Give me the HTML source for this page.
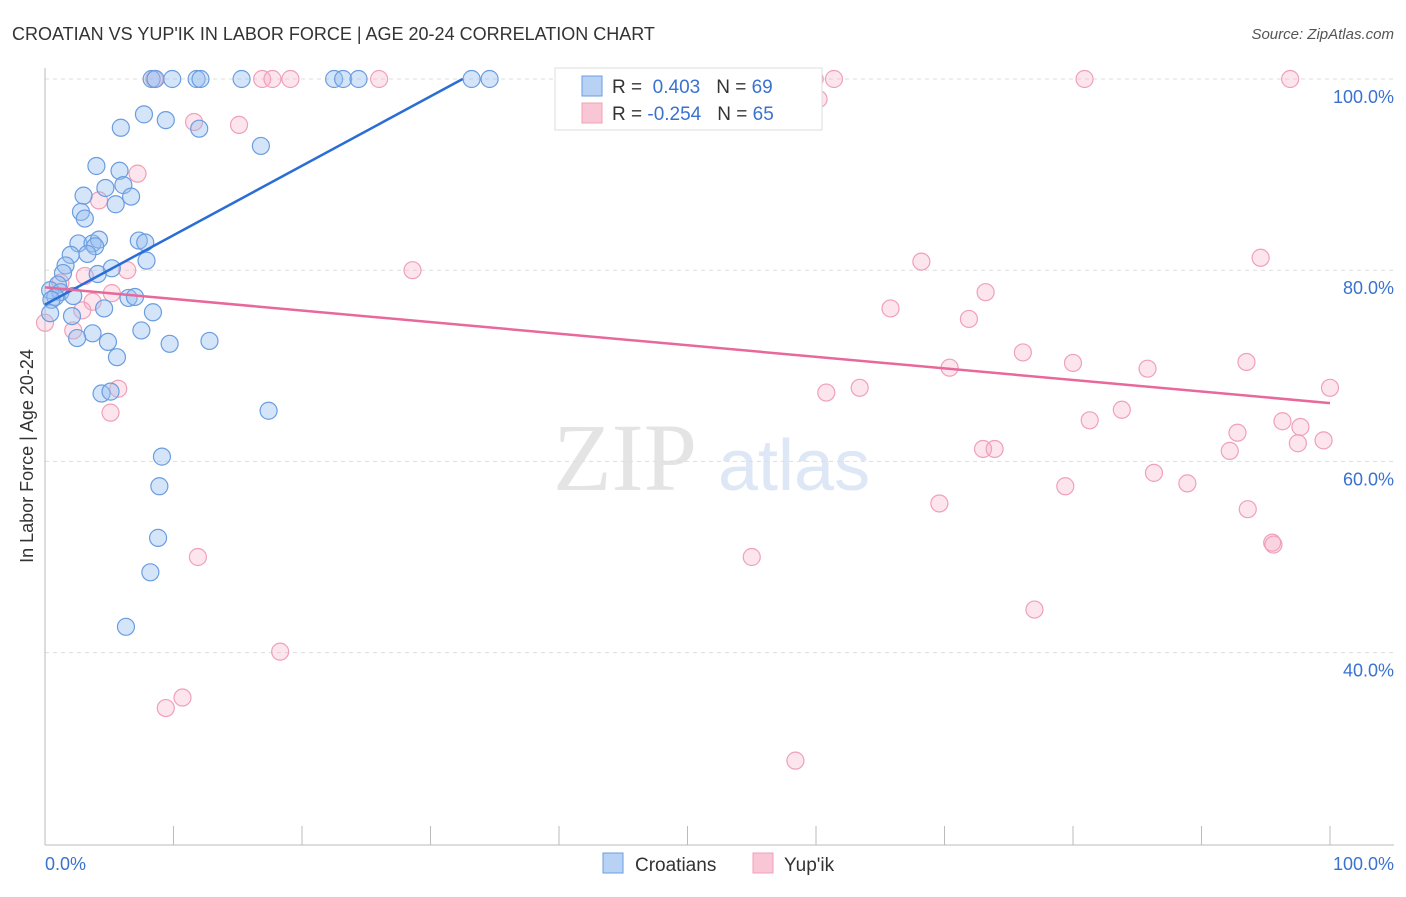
<!DOCTYPE html>
<html><head><meta charset="utf-8"><style>
body{margin:0;background:#fff;font-family:"Liberation Sans",sans-serif}
</style></head><body>
<svg id="chart" width="1406" height="892" viewBox="0 0 1406 892" xmlns="http://www.w3.org/2000/svg" font-family="Liberation Sans, sans-serif">
<text x="12" y="40" font-size="18" fill="#333">CROATIAN VS YUP'IK IN LABOR FORCE | AGE 20-24 CORRELATION CHART</text>
<text x="1394" y="39" font-size="15" fill="#555" font-style="italic" text-anchor="end">Source: ZipAtlas.com</text>
<text x="553" y="490" font-size="96" fill="#e4e4e4" font-family="Liberation Serif, serif">ZIP</text>
<text x="718" y="490" font-size="72" fill="#dde7f5">atlas</text>
<g id="grid"></g>
<g id="axes"></g>
<g id="pts"></g>
<g id="trends"></g>
<text transform="translate(33,456) rotate(-90)" font-size="18" fill="#333" text-anchor="middle">In Labor Force | Age 20-24</text>
<g>
<rect x="555" y="68" width="267" height="62" fill="#fff" stroke="#ddd"/>
<rect x="582" y="76" width="20" height="20" fill="#b8d2f5" stroke="#6a9de0"/>
<text x="612" y="93" font-size="19" fill="#333">R = <tspan fill="#3a72d0">&#160;0.403</tspan><tspan dx="16">N = </tspan><tspan fill="#3a72d0">69</tspan></text>
<rect x="582" y="103" width="20" height="20" fill="#f8c6d4" stroke="#f0a0b8"/>
<text x="612" y="120" font-size="19" fill="#333">R = <tspan fill="#3a72d0">-0.254</tspan><tspan dx="16">N = </tspan><tspan fill="#3a72d0">65</tspan></text>
</g>
<g>
<rect x="603" y="853" width="20" height="20" fill="#b8d2f5" stroke="#6a9de0"/>
<text x="635" y="871" font-size="19" fill="#333">Croatians</text>
<rect x="753" y="853" width="20" height="20" fill="#f8c6d4" stroke="#f0a0b8"/>
<text x="784" y="871" font-size="19" fill="#333">Yup'ik</text>
</g>
</svg>
<script>
const blueX=[8.3,8.6,9.9,11.8,12.1,15.3,22.5,23.2,24.4,33.2,34.6,7.7,9.4,5.9,12.0,16.8,4.0,5.8,4.7,6.1,3.0,6.7,5.5,2.8,3.1,2.6,3.7,4.2,3.9,7.3,7.8,3.3,2.0,7.9,1.6,5.2,4.1,1.4,1.0,0.4,1.2,2.2,0.8,0.5,6.5,7.0,4.6,8.4,2.1,0.4,3.7,2.5,7.5,9.7,12.8,4.9,5.6,4.4,5.1,17.4,9.1,8.9,8.8,8.2,6.3];
const blueY=[100,100,100,100,100,100,100,100,100,100,100,96.3,95.7,94.9,94.8,93.0,90.9,90.4,88.6,88.9,87.8,87.7,86.9,86.1,85.4,82.8,82.8,83.2,82.5,83.1,82.9,81.7,81.6,81.0,80.5,80.2,79.6,79.7,78.5,77.9,77.7,77.3,77.2,76.9,77.1,77.2,76.0,75.6,75.2,75.5,73.4,72.9,73.7,72.3,72.6,72.5,70.9,67.1,67.3,65.3,60.5,57.4,52.0,48.4,42.7];
const pinkX=[8.5,16.9,17.7,19.1,26.0,50.0,59.9,61.4,80.9,96.9,60.2,11.6,15.1,7.2,4.2,28.6,6.4,94.6,68.2,73.2,1.2,3.1,5.2,3.7,2.9,65.8,71.9,76.1,80.0,85.8,93.5,70.4,63.4,60.8,100,5.7,5.1,83.8,81.3,96.3,97.7,92.8,99.5,97.5,92.2,73.0,73.9,86.3,88.9,79.4,69.6,93.6,95.5,95.6,55.0,11.9,77.0,18.3,10.7,9.4,58.4,0,2.2];
const pinkY=[100,100,100,100,100,100,100,100,100,100,97.9,95.5,95.2,90.1,87.3,80.0,80.0,81.3,80.9,77.7,78.7,79.4,77.6,76.7,75.8,76.0,74.9,71.4,70.3,69.7,70.4,69.8,67.7,67.2,67.7,67.6,65.1,65.4,64.3,64.2,63.6,63.0,62.2,61.9,61.1,61.3,61.3,58.8,57.7,57.4,55.6,55.0,51.5,51.3,50.0,50.0,44.5,40.1,35.3,34.2,28.7,74.5,73.7];
const blueTrend=[[0,76.4],[32.5,100]];
const pinkTrend=[[0,78.2],[100,66.1]];
const yTicks=[100,80,60,40];
const yTickLabels=["100.0%","80.0%","60.0%","40.0%"];
const xTicks=[0,10,20,30,40,50,60,70,80,90,100];
const NS="http://www.w3.org/2000/svg";
const sx=v=>45+v*12.85, sy=v=>79+(100-v)*9.56;
function mk(tag,attrs,parent){const e=document.createElementNS(NS,tag);for(const k in attrs)e.setAttribute(k,attrs[k]);parent.appendChild(e);return e;}
const grid=document.getElementById('grid'),axes=document.getElementById('axes'),pts=document.getElementById('pts'),tr=document.getElementById('trends');
yTicks.forEach((t,i)=>{
 const l=mk('line',{x1:45,x2:1394,y1:sy(t),y2:sy(t),stroke:'#ddd','stroke-dasharray':'4,4'},grid);
 
 
 const tx=mk('text',{x:1394,y:sy(t)+24,'font-size':18,fill:'#3a72d0','text-anchor':'end'},axes);
 tx.textContent=yTickLabels[i];
 
 
});
const ya=mk('line',{x1:45,x2:45,y1:68,y2:845,stroke:'#bbb'},axes);


const xa=mk('line',{x1:45,x2:1394,y1:845,y2:845,stroke:'#bbb'},axes);


xTicks.forEach(t=>{const l=mk('line',{x1:sx(t),x2:sx(t),y1:826,y2:845,stroke:'#bbb'},axes);
 
 });
[['0.0%',45,'start'],['100.0%',1394,'end']].forEach(a=>{const t=mk('text',{x:a[1],y:870,'font-size':18,fill:'#3a72d0','text-anchor':a[2]},axes);t.textContent=a[0];
 
 });
function dots(X,Y,fill,stroke,name){X.forEach((x,i)=>{const c=mk('circle',{cx:sx(x),cy:sy(Y[i]),r:8.5,fill:fill,stroke:stroke,'stroke-width':1.2},pts);
 
 });}
dots(pinkX,pinkY,'rgba(245,170,195,0.3)','#f0a0b8','yupik-point');
dots(blueX,blueY,'rgba(150,190,240,0.4)','#6a9de0','croatian-point');
const bl=mk('line',{x1:sx(blueTrend[0][0]),y1:sy(blueTrend[0][1]),x2:sx(blueTrend[1][0]),y2:sy(blueTrend[1][1]),stroke:'#2a6dd6','stroke-width':2.5},tr);


const pl=mk('line',{x1:sx(pinkTrend[0][0]),y1:sy(pinkTrend[0][1]),x2:sx(pinkTrend[1][0]),y2:sy(pinkTrend[1][1]),stroke:'#e8689a','stroke-width':2.5},tr);


</script>
</body></html>
